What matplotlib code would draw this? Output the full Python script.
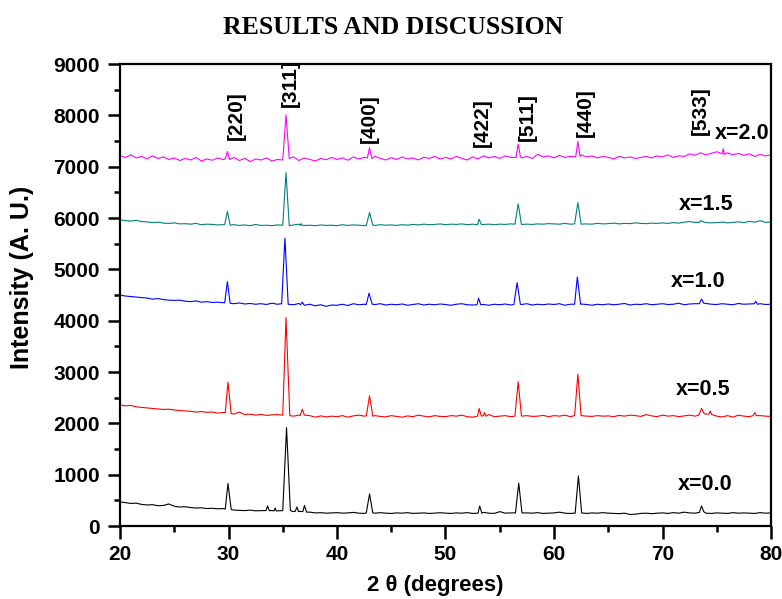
import numpy as np
import matplotlib
matplotlib.use("Agg")
import matplotlib.pyplot as plt
from matplotlib.ticker import MultipleLocator

# ---------------- data ----------------
grid_x = np.arange(20.0, 80.01, 0.5)

base_00 = [470, 455, 440, 445, 420, 410, 415, 395, 400, 430, 385, 370, 375, 360, 350, 355, 340, 345, 335, 340,
           320, 310, 305, 300, 310, 295, 300, 290, 300, 295,
           290, 300, 280, 285, 275, 270, 255, 260, 250, 255,
           260, 250, 255, 265, 250, 245, 255, 250, 260, 250,
           245, 255, 250, 260, 245, 250, 255, 245, 250, 260,
           250, 245, 255, 250, 260, 245, 250, 265, 250, 245,
           280, 250, 255, 245, 250, 255, 250, 260, 245, 250,
           255, 270, 250, 245, 255, 250, 245, 255, 250, 260,
           250, 245, 240, 250, 225, 230, 245, 250, 240, 250,
           255, 245, 260, 250, 270, 255, 250, 260, 250, 245,
           255, 250, 245, 260, 250, 255, 250, 245, 260, 250,
           255]
peak_x_00 = [29.7, 29.95, 30.25, 33.45, 33.6, 33.75, 34.2, 34.3, 34.4, 35.0, 35.35, 35.7,
             36.15, 36.3, 36.45, 36.85, 37.0, 37.2, 42.7, 43.0, 43.3, 53.0, 53.15, 53.35,
             56.45, 56.75, 57.05, 61.95, 62.25, 62.55, 73.4, 73.6, 73.8]
peak_y_00 = [330, 830, 320, 300, 390, 300, 295, 350, 295, 300, 1915, 300,
             285, 370, 280, 280, 400, 270, 255, 625, 255, 250, 390, 250,
             255, 835, 255, 250, 975, 255, 265, 390, 280]

base_05 = [2360, 2340, 2350, 2320, 2310, 2300, 2290, 2280, 2270, 2275, 2260, 2250, 2240, 2235, 2220, 2230, 2215, 2220, 2200, 2210,
           2200, 2180, 2220, 2170, 2180, 2160, 2175, 2155, 2165, 2170,
           2160, 2150, 2140, 2160, 2130, 2150, 2120, 2145, 2125, 2140,
           2130, 2150, 2120, 2145, 2160, 2140, 2130, 2150, 2135, 2125,
           2150, 2135, 2120, 2145, 2130, 2160, 2140, 2125, 2150, 2135,
           2130, 2150, 2140, 2160, 2130, 2120, 2150, 2140, 2170, 2130,
           2140, 2150, 2130, 2160, 2145, 2150, 2135, 2140, 2155, 2130,
           2150, 2140, 2160, 2130, 2145, 2155, 2140, 2135, 2150, 2140,
           2145, 2130, 2155, 2140, 2160, 2150, 2135, 2170, 2145, 2130,
           2160, 2140, 2150, 2130, 2145, 2160, 2140, 2150, 2180, 2150,
           2140, 2125, 2150, 2120, 2160, 2140, 2130, 2175, 2150, 2140,
           2135]
peak_x_05 = [29.7, 29.95, 30.25, 35.0, 35.3, 35.65, 36.6, 36.8, 37.0, 42.7, 43.0, 43.3,
             52.95, 53.1, 53.3, 53.5, 53.6, 53.75, 56.4, 56.7, 57.0, 61.9, 62.2, 62.5,
             73.35, 73.6, 73.85, 74.3, 74.4, 74.55, 78.35, 78.5, 78.65]
peak_y_05 = [2210, 2800, 2190, 2160, 4060, 2150, 2150, 2275, 2160, 2145, 2535, 2140,
             2140, 2290, 2140, 2150, 2210, 2140, 2140, 2810, 2140, 2150, 2955, 2150,
             2160, 2290, 2190, 2180, 2240, 2170, 2150, 2210, 2150]

base_10 = [4500, 4480, 4470, 4460, 4450, 4440, 4420, 4430, 4410, 4400, 4395, 4400, 4380, 4370, 4385, 4360, 4370, 4355, 4360, 4350,
           4340, 4330, 4345, 4325, 4335, 4320, 4330, 4315, 4340, 4320,
           4330, 4320, 4310, 4335, 4300, 4320, 4290, 4310, 4280, 4305,
           4300, 4320, 4295, 4330, 4310, 4320, 4300, 4315, 4330, 4305,
           4320, 4310, 4325, 4300, 4315, 4330, 4305, 4320, 4310, 4325,
           4315, 4300, 4320, 4330, 4310, 4305, 4325, 4315, 4300, 4320,
           4310, 4325, 4305, 4320, 4315, 4330, 4305, 4320, 4310, 4325,
           4315, 4330, 4300, 4320, 4310, 4325, 4315, 4300, 4320, 4310,
           4325, 4310, 4320, 4335, 4305, 4320, 4315, 4330, 4310, 4320,
           4330, 4315, 4320, 4340, 4310, 4325, 4330, 4315, 4335, 4320,
           4315, 4330, 4320, 4310, 4335, 4320, 4325, 4310, 4330, 4315,
           4320]
peak_x_10 = [29.65, 29.9, 30.15, 34.9, 35.2, 35.5, 36.65, 36.8, 36.95, 42.7, 42.95, 43.25,
             52.9, 53.05, 53.25, 56.3, 56.6, 56.9, 61.9, 62.15, 62.45,
             73.4, 73.6, 73.8, 78.45, 78.6, 78.75]
peak_y_10 = [4350, 4760, 4340, 4330, 5610, 4320, 4310, 4360, 4310, 4315, 4535, 4320,
             4310, 4435, 4310, 4315, 4740, 4320, 4320, 4850, 4320,
             4330, 4420, 4340, 4330, 4375, 4320]

base_15 = [5960, 5950, 5940, 5955, 5930, 5925, 5910, 5920, 5900, 5895, 5905, 5885, 5890, 5880, 5895, 5870, 5880, 5875, 5865, 5870,
           5860, 5870, 5855, 5865, 5850, 5875, 5855, 5860, 5850, 5865,
           5860, 5850, 5865, 5880, 5855, 5860, 5850, 5865, 5855, 5860,
           5850, 5870, 5855, 5865, 5860, 5850, 5865, 5855, 5870, 5860,
           5865, 5855, 5870, 5860, 5875, 5865, 5880, 5870, 5875, 5885,
           5870, 5880, 5875, 5885, 5870, 5880, 5890, 5875, 5880, 5870,
           5880, 5875, 5885, 5870, 5890, 5880, 5875, 5885, 5880, 5890,
           5885, 5880, 5895, 5880, 5875, 5890, 5885, 5880, 5895, 5885,
           5890, 5900, 5885, 5895, 5890, 5905, 5895, 5890, 5900, 5895,
           5905, 5895, 5910, 5900, 5920, 5930, 5915, 5925, 5910, 5905,
           5910, 5920, 5905, 5915, 5925, 5910, 5935, 5920, 5945, 5915,
           5920]
peak_x_15 = [29.65, 29.9, 30.15, 35.0, 35.3, 35.6, 36.6, 36.7, 36.8, 42.7, 43.0, 43.3,
             52.95, 53.1, 53.3, 56.4, 56.7, 57.0, 61.9, 62.2, 62.5, 73.4, 73.5, 73.7]
peak_y_15 = [5875, 6125, 5860, 5860, 6885, 5850, 5855, 5890, 5855, 5855, 6105, 5860,
             5870, 5975, 5875, 5880, 6275, 5875, 5885, 6300, 5880, 5915, 5950, 5930]

base_20 = [7210, 7180, 7230, 7170, 7200, 7150, 7210, 7160, 7190, 7140, 7170, 7120, 7160, 7130, 7180, 7110, 7150, 7125, 7170, 7140,
           7130, 7180, 7120, 7160, 7100, 7150, 7130, 7170, 7110, 7140,
           7150, 7130, 7190, 7120, 7170, 7140, 7110, 7160, 7135, 7180,
           7140, 7170, 7125, 7190, 7150, 7180, 7140, 7200, 7160, 7130,
           7175, 7140, 7190, 7150, 7170, 7130, 7185, 7160, 7200, 7150,
           7180, 7150, 7200, 7160, 7130, 7190, 7150, 7210, 7170, 7200,
           7160, 7210, 7180, 7230, 7170, 7200, 7160, 7240, 7190, 7210,
           7170, 7220, 7180, 7200, 7160, 7230, 7190, 7210, 7170, 7200,
           7180, 7150, 7200, 7170, 7190, 7160, 7180, 7200, 7170, 7210,
           7190, 7230, 7180, 7210, 7200, 7250, 7220, 7270, 7230, 7260,
           7290, 7240, 7270, 7230, 7260, 7220, 7250, 7200, 7240, 7210,
           7230]
peak_x_20 = [29.7, 29.9, 30.1, 35.0, 35.3, 35.6, 42.8, 43.0, 43.2,
             56.5, 56.7, 56.9, 62.0, 62.2, 62.4, 75.5, 75.6, 75.7]
peak_y_20 = [7150, 7295, 7140, 7130, 8010, 7160, 7170, 7370, 7160,
             7180, 7440, 7200, 7190, 7490, 7200, 7250, 7350, 7240]

series_names = ["x=0.0", "x=0.5", "x=1.0", "x=1.5", "x=2.0"]
series_colors = ["#000000", "#ff0000", "#0000ff", "#008080", "#ff00ff"]
series_base = [base_00, base_05, base_10, base_15, base_20]
series_px = [peak_x_00, peak_x_05, peak_x_10, peak_x_15, peak_x_20]
series_py = [peak_y_00, peak_y_05, peak_y_10, peak_y_15, peak_y_20]
name_x = [71.4, 71.25, 70.8, 71.5, 74.85]
name_y = [818, 2650, 4770, 6270, 7655]

hkl_labels = ["[220]", "[311]", "[400]", "[422]", "[511]", "[440]", "[533]"]
hkl_x = [30.7, 35.67, 42.95, 53.43, 57.5, 62.9, 73.46]
hkl_y = [7520, 8160, 7460, 7380, 7500, 7580, 7620]


def merge(base, px, py):
    gx = np.asarray(grid_x)
    gy = np.asarray(base, dtype=float)
    px = np.asarray(px)
    py = np.asarray(py, dtype=float)
    keep = np.ones(len(gx), dtype=bool)
    for i in range(0, len(px), 3):
        lo, hi = px[i], px[i + 2]
        keep &= ~((gx >= lo - 1e-9) & (gx <= hi + 1e-9))
    x = np.concatenate([gx[keep], px])
    y = np.concatenate([gy[keep], py])
    order = np.argsort(x, kind="stable")
    return x[order], y[order]


# ---------------- plot ----------------
fig = plt.figure(figsize=(7.82, 5.99), dpi=100)
ax = fig.add_axes([120 / 782, 73 / 599, 651 / 782, 462 / 599])

for base, px, py, col in zip(series_base, series_px, series_py, series_colors):
    x, y = merge(base, px, py)
    ax.plot(x, y, color=col, lw=0.8)

for name, nx, ny in zip(series_names, name_x, name_y):
    ax.text(nx, ny, name, fontsize=15.5, fontweight="bold", family="Liberation Sans",
            ha="left", va="center")

for lab, lx, ly in zip(hkl_labels, hkl_x, hkl_y):
    ax.text(lx, ly, lab, fontsize=15, fontweight="bold", family="Liberation Sans",
            rotation=90, ha="center", va="bottom")

ax.set_xlim(20, 80)
ax.set_ylim(0, 9000)
ax.xaxis.set_major_locator(MultipleLocator(10))
ax.xaxis.set_minor_locator(MultipleLocator(5))
ax.yaxis.set_major_locator(MultipleLocator(1000))
ax.yaxis.set_minor_locator(MultipleLocator(500))
ax.tick_params(which="major", direction="out", length=9, width=1.8,
               labelsize=15, top=False, right=False)
ax.tick_params(axis="y", which="major", pad=5.5)
ax.tick_params(axis="x", which="major", pad=5)
ax.tick_params(which="minor", direction="out", length=4.5, width=1.8,
               top=False, right=False)
for lab in ax.get_xticklabels() + ax.get_yticklabels():
    lab.set_fontweight("bold")
    lab.set_family("Liberation Sans")
for sp in ax.spines.values():
    sp.set_linewidth(1.6)

fig.text(435 / 782, 1 - 585 / 599, "2 θ (degrees)", fontsize=16, fontweight="bold",
         family="Liberation Sans", ha="center", va="center")
fig.text(22 / 782, 1 - 277 / 599, "Intensity (A. U.)", fontsize=18, fontweight="bold",
         family="Liberation Sans", ha="center", va="center", rotation=90)

fig.text(393 / 782, 1 - 27 / 599, "RESULTS AND DISCUSSION", fontsize=18.5, fontweight="bold",
         family="Liberation Serif", ha="center", va="center")

fig.savefig("out.png", dpi=100)
